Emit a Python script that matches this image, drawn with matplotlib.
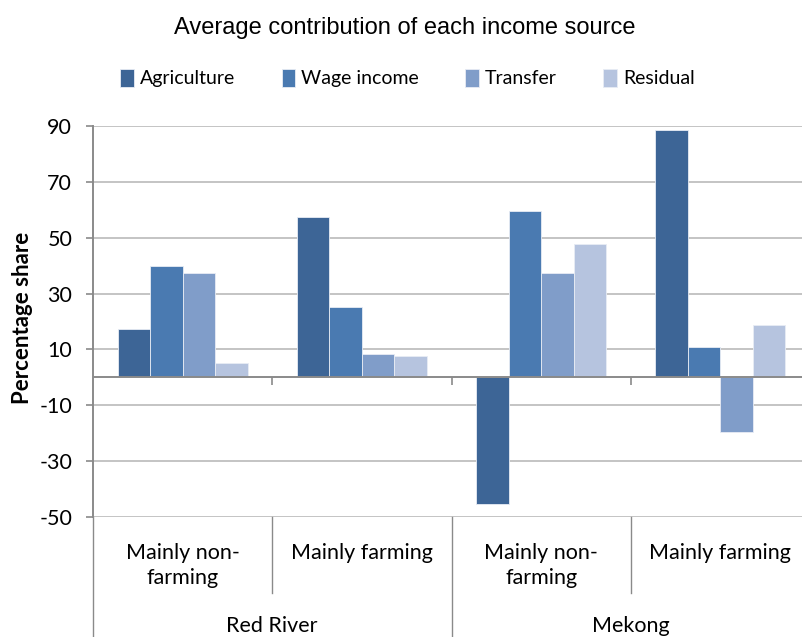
import numpy as np
import matplotlib
matplotlib.use("Agg")
import matplotlib.pyplot as plt
import matplotlib.transforms as mtransforms
from matplotlib.lines import Line2D

# data
groups = ["Mainly non-\nfarming", "Mainly farming", "Mainly non-\nfarming", "Mainly farming"]
regions = ["Red River", "Mekong"]
sources = ["Agriculture", "Wage income", "Transfer", "Residual"]
agriculture = [17.3, 57.4, -45.2, 88.5]
wage_income = [40.0, 25.1, 59.5, 10.9]
transfer = [37.4, 8.3, 37.4, -19.4]
residual = [5.0, 7.7, 47.8, 18.6]
yticks = [-50, -30, -10, 10, 30, 50, 70, 90]

colors = ["#3D6596", "#4A7AB1", "#809DC9", "#B6C4DF"]
series = [agriculture, wage_income, transfer, residual]

plt.rcParams["font.family"] = ["Lato", "DejaVu Sans"]

fig = plt.figure(figsize=(8.02, 6.37), dpi=100)
ax = fig.add_axes([93 / 802, 1 - 517 / 637, (810 - 93) / 802, (517 - 126) / 637])

x = np.arange(len(groups))
w = 0.181
for k, (vals, c, name) in enumerate(zip(series, colors, sources)):
    ax.bar(x + (k - 1.5) * w, vals, width=w, color=c, edgecolor="#E8ECF4",
           linewidth=0.6, label=name, zorder=3)

ax.set_xlim(-0.5, len(groups) - 0.5)
ax.set_ylim(-50, 90)
ax.set_yticks(yticks)
ax.set_yticklabels([str(v) for v in yticks], fontsize=15.5)
ax.set_xticks([])
ax.yaxis.grid(True, color="#C4C4C4", linewidth=1.4, zorder=0)
ax.axhline(0, color="#8A8A8A", linewidth=1.4, zorder=4)
for s in ["top", "right", "bottom"]:
    ax.spines[s].set_visible(False)
ax.spines["left"].set_color("#8A8A8A")
ax.spines["left"].set_linewidth(1.4)
ax.tick_params(axis="y", length=5, width=1.2, color="#8A8A8A", pad=10)

# small tick marks on the zero line between categories
ax.vlines([0.5, 1.5, 2.5], -2.8, 0, color="#8A8A8A", linewidth=1.2, zorder=4)

ax.set_ylabel("Percentage share", fontsize=16, fontweight="bold")
ax.yaxis.set_label_coords(-0.083, 0.508)

# multi-level category axis below the plot
trans = mtransforms.blended_transform_factory(ax.transData, fig.transFigure)
y_top = 1 - 517 / 637
y_mid = 1 - 593 / 637
for xb in [0.5, 2.5]:
    fig.add_artist(Line2D([xb, xb], [y_top, y_mid], color="#8A8A8A", lw=1.0, transform=trans))
for xb in [-0.5, 1.5, 3.5]:
    fig.add_artist(Line2D([xb, xb], [y_top, 0], color="#8A8A8A", lw=1.0, transform=trans))

for xi, g in zip(x, groups):
    ax.text(xi, 1 - 543 / 637, g, transform=trans, ha="center", va="top",
            fontsize=15.5, linespacing=1.3)
for i, r in enumerate(regions):
    ax.text(2 * i + 0.5, 1 - 626 / 637, r, transform=trans, ha="center", va="center",
            fontsize=15.5)

fig.text(0.505, 1 - 28 / 637, "Average contribution of each income source",
         ha="center", va="center", fontsize=17, family="Liberation Sans")

fig.legend(loc="center", bbox_to_anchor=(0.508, 1 - 78 / 637), ncol=4, frameon=False,
           fontsize=14, handlelength=0.7, handleheight=1.1, handletextpad=0.3,
           columnspacing=2.4)

fig.savefig("out.png", dpi=100)
